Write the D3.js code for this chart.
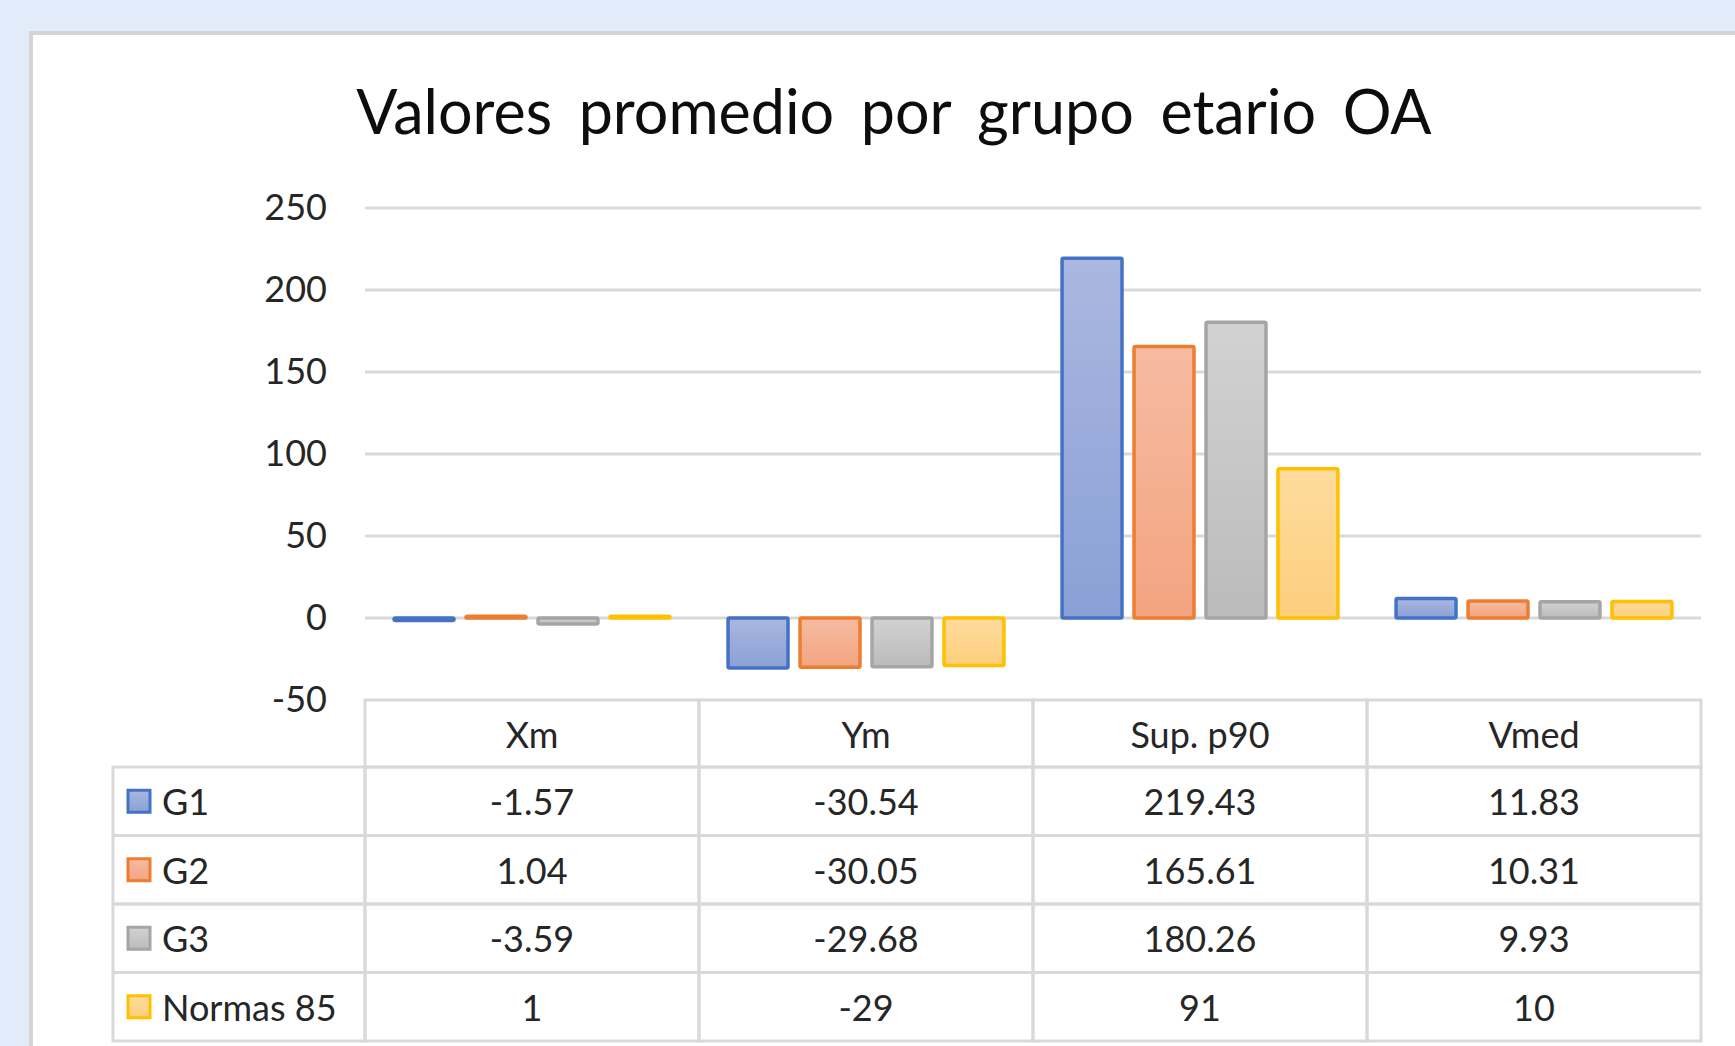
<!DOCTYPE html>
<html><head><meta charset="utf-8">
<script src="https://cdn.jsdelivr.net/npm/d3@7"></script>
<style>
html,body{margin:0;padding:0;background:#E1EBFA;overflow:hidden;}
text{font-family:Lato,"Noto Sans",sans-serif;fill:#262626;}
</style></head>
<body>
<svg id="chart" width="1735" height="1046"></svg>
<script>
const title = "Valores promedio por grupo etario OA";
const categories = ["Xm", "Ym", "Sup. p90", "Vmed"];
const seriesNames = ["G1", "G2", "G3", "Normas 85"];
const g1 = [-1.57, -30.54, 219.43, 11.83];
const g2 = [1.04, -30.05, 165.61, 10.31];
const g3 = [-3.59, -29.68, 180.26, 9.93];
const normas85 = [1, -29, 91, 10];
const valueLabels = [
  ["-1.57", "-30.54", "219.43", "11.83"],
  ["1.04", "-30.05", "165.61", "10.31"],
  ["-3.59", "-29.68", "180.26", "9.93"],
  ["1", "-29", "91", "10"]
];
const yTicks = [-50, 0, 50, 100, 150, 200, 250];
const strokeColors = ["#4472C4", "#ED7D31", "#A5A5A5", "#FFC000"];
const fillTop = ["#AAB7E0", "#F6BBA2", "#D2D2D2", "#FEDB9E"];
const fillBottom = ["#8AA0D6", "#F3A480", "#BBBBBB", "#FCCF7C"];

const series = [g1, g2, g3, normas85];

const svg = d3.select("#chart");
const W = 1735, H = 1046;

// chart box
svg.append("rect").attr("x", 31).attr("y", 33).attr("width", W).attr("height", H)
  .attr("fill", "#fff").attr("stroke", "#D4D4D4").attr("stroke-width", 4);

const plotL = 365, plotR = 1701, plotT = 208, plotB = 700;
const y = d3.scaleLinear().domain([-50, 250]).range([plotB, plotT]);
const x0 = d3.scaleBand().domain(categories).range([plotL, plotR]);
const gapHalf = x0.bandwidth() * 0.087;
const x1 = d3.scaleBand().domain(d3.range(4)).range([gapHalf, x0.bandwidth() - gapHalf]).paddingInner(0.167).paddingOuter(0);

// gradients
const defs = svg.append("defs");
series.forEach((s, i) => {
  const lg = defs.append("linearGradient").attr("id", "grad" + i)
    .attr("x1", 0).attr("y1", 0).attr("x2", 0).attr("y2", 1);
  lg.append("stop").attr("offset", "0%").attr("stop-color", fillTop[i]);
  lg.append("stop").attr("offset", "100%").attr("stop-color", fillBottom[i]);
});

// title
svg.append("text").attr("x", 894).attr("y", 134)
  .attr("text-anchor", "middle").style("font-size", "61px").style("word-spacing", "11px")
  .style("fill", "#0d0d0d")
  .text(title);

// gridlines
const grid = svg.append("g");
grid.selectAll("line").data(yTicks.filter(t => t !== -50)).join("line")
  .attr("x1", plotL).attr("x2", plotR)
  .attr("y1", d => y(d)).attr("y2", d => y(d))
  .attr("stroke", "#D9D9D9").attr("stroke-width", 3);

// y axis labels
const yAxis = d3.axisLeft(y).tickValues(yTicks).tickSize(0).tickPadding(38).tickFormat(d => String(d));
const ga = svg.append("g").attr("transform", `translate(${plotL},0)`).call(yAxis);
ga.select(".domain").remove();
ga.selectAll("text").style("font-size", "36px").style("font-family", "Lato,sans-serif").attr("fill", "#262626");

// bars
const groups = svg.append("g").selectAll("g").data(categories).join("g")
  .attr("transform", d => `translate(${x0(d)},0)`);
groups.selectAll("rect").data((c, ci) => series.map((s, si) => ({si, v: s[ci]}))).join("rect")
  .attr("x", d => x1(d.si))
  .attr("width", x1.bandwidth())
  .attr("y", d => Math.min(y(d.v), y(0)))
  .attr("height", d => Math.abs(y(d.v) - y(0)))
  .attr("fill", d => `url(#grad${d.si})`)
  .attr("stroke", d => strokeColors[d.si])
  .attr("stroke-width", 3.5)
  .attr("rx", 1.5);

// data table
const tableL = 113, headerT = plotB, headerH = 67, rowH = 68.5;
const border = "#D9D9D9";
const tbl = svg.append("g");
// header cells
tbl.selectAll("rect.hdr").data(categories).join("rect").attr("class", "hdr")
  .attr("x", d => x0(d)).attr("y", headerT).attr("width", x0.bandwidth()).attr("height", headerH)
  .attr("fill", "none").attr("stroke", border).attr("stroke-width", 3);
tbl.selectAll("text.hdr").data(categories).join("text").attr("class", "hdr")
  .attr("x", d => x0(d) + x0.bandwidth() / 2).attr("y", headerT + headerH / 2)
  .attr("text-anchor", "middle").attr("dominant-baseline", "central")
  .style("font-size", "36px").text(d => d);

// rows
seriesNames.forEach((name, si) => {
  const ry = headerT + headerH + si * rowH;
  tbl.append("rect").attr("x", tableL).attr("y", ry).attr("width", plotL - tableL).attr("height", rowH)
    .attr("fill", "none").attr("stroke", border).attr("stroke-width", 3);
  tbl.append("rect").attr("x", tableL + 15).attr("y", ry + rowH / 2 - 11).attr("width", 22).attr("height", 22)
    .attr("fill", `url(#grad${si})`).attr("stroke", strokeColors[si]).attr("stroke-width", 3);
  tbl.append("text").attr("x", tableL + 49).attr("y", ry + rowH / 2)
    .attr("dominant-baseline", "central").style("font-size", "36px").text(name);
  categories.forEach((c, ci) => {
    tbl.append("rect").attr("x", x0(c)).attr("y", ry).attr("width", x0.bandwidth()).attr("height", rowH)
      .attr("fill", "none").attr("stroke", border).attr("stroke-width", 3);
    tbl.append("text").attr("x", x0(c) + x0.bandwidth() / 2).attr("y", ry + rowH / 2)
      .attr("text-anchor", "middle").attr("dominant-baseline", "central")
      .style("font-size", "36px").text(valueLabels[si][ci]);
  });
});
</script>
</body></html>
